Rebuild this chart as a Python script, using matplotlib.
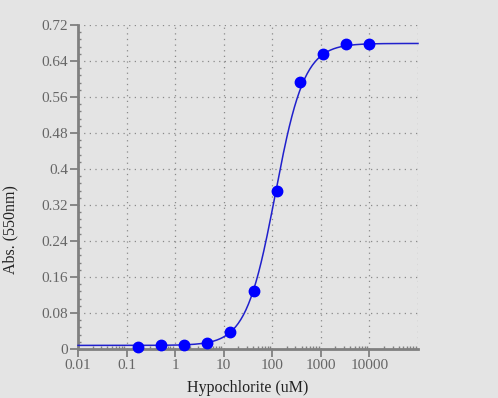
import numpy as np
import matplotlib
matplotlib.use("Agg")
import matplotlib.pyplot as plt
from matplotlib.ticker import FixedLocator, NullFormatter

# Data
conc_uM = [0.169, 0.508, 1.52, 4.57, 13.7, 41.2, 123, 370, 1111, 3333, 10000]
absorbance = [0.005, 0.008, 0.009, 0.013, 0.037, 0.129, 0.351, 0.593, 0.655, 0.677, 0.678]

# 4-parameter logistic fit parameters (estimated from the drawn curve)
fit_bottom = 0.008
fit_top = 0.679
fit_ec50 = 115.0
fit_hill = 1.45

x_ticks = [0.01, 0.1, 1, 10, 100, 1000, 10000]
x_tick_labels = ["0.01", "0.1", "1", "10", "100", "1000", "10000"]
y_ticks = [0, 0.08, 0.16, 0.24, 0.32, 0.4, 0.48, 0.56, 0.64, 0.72]
y_tick_labels = ["0", "0.08", "0.16", "0.24", "0.32", "0.4", "0.48", "0.56", "0.64", "0.72"]

plt.rcParams['font.family'] = ['Liberation Serif', 'DejaVu Serif']

bg = "#e4e4e4"
fig = plt.figure(figsize=(4.98, 3.98), dpi=100, facecolor=bg)
ax = fig.add_axes([78/498, 1-349/398, 340/498, 324/398], facecolor=bg)

ax.set_xscale("log")
ax.set_xlim(0.01, 1e5)
ax.set_ylim(0, 0.72)

xs = np.logspace(-2, 5, 400)
ys = fit_bottom + (fit_top - fit_bottom) / (1 + (fit_ec50 / xs) ** fit_hill)
ax.plot(xs, ys, color="#2020cc", lw=1.1, zorder=3, clip_on=False)
ax.plot(conc_uM, absorbance, "o", color="#0000ff", ms=7.5, zorder=4, clip_on=False)

grid_kw = dict(color="#8a8a8a", lw=0.9, linestyle=(0, (1, 3.5)), zorder=1)
for xv in x_ticks[1:] + [1e5]:
    ax.axvline(xv, **grid_kw)
for yv in y_ticks[1:]:
    ax.axhline(yv, **grid_kw)

ax.set_xticks(x_ticks)
ax.set_xticklabels(x_tick_labels)
ax.set_yticks(y_ticks)
ax.set_yticklabels(y_tick_labels)
ax.xaxis.set_minor_locator(FixedLocator([m * 10.0**e for e in range(-2, 5) for m in range(2, 10)]))
ax.xaxis.set_minor_formatter(NullFormatter())
ax.yaxis.set_minor_locator(FixedLocator(np.arange(0, 0.7201, 0.016)))

for s in ["top", "right"]:
    ax.spines[s].set_visible(False)
for s in ["left", "bottom"]:
    ax.spines[s].set_color("#808080")
    ax.spines[s].set_linewidth(2)

ax.tick_params(which="major", length=6, width=1.3, color="#808080",
               labelcolor="#666666", labelsize=11, pad=1)
ax.tick_params(which="minor", length=2.5, width=1, color="#808080", direction="in")

ax.set_xlabel("Hypochlorite (uM)", fontsize=11.5, color="#222222", labelpad=6)
ax.set_ylabel("Abs. (550nm)", fontsize=11.5, color="#222222", va="center")
ax.yaxis.set_label_coords(-(78 - 10) / 340, (349 - 230) / 324)

fig.savefig("out.png", dpi=100, facecolor=bg)
